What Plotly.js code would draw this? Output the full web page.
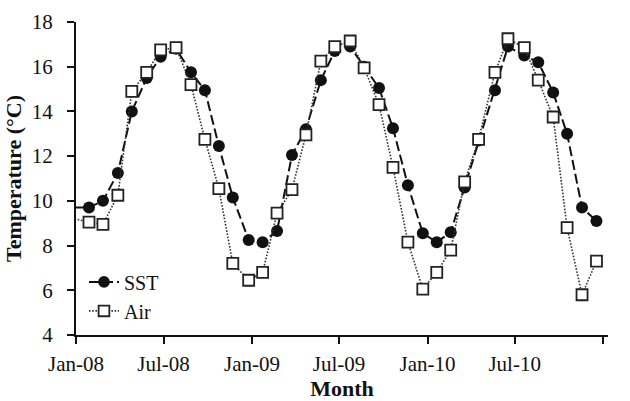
<!DOCTYPE html>
<html>
<head>
<meta charset="utf-8">
<script src="https://cdn.plot.ly/plotly-3.0.1.min.js"></script>
<style>
  html, body { margin: 0; padding: 0; background: #fff; }
  #chart { width: 630px; height: 401px; }
</style>
</head>
<body>
<div id="chart"></div>
<script>
// Monthly sampling dates (first one falls just before the axis start)
const sampleDates = [
  '2007-12-29',
  '2008-01-28','2008-02-26','2008-03-28','2008-04-26','2008-05-27','2008-06-25',
  '2008-07-27','2008-08-27','2008-09-25','2008-10-24','2008-11-22','2008-12-25',
  '2009-01-23','2009-02-22','2009-03-25','2009-04-23','2009-05-24','2009-06-22',
  '2009-07-24','2009-08-22','2009-09-22','2009-10-21','2009-11-21','2009-12-22',
  '2010-01-20','2010-02-18','2010-03-19','2010-04-17','2010-05-21','2010-06-17',
  '2010-07-21','2010-08-19','2010-09-19','2010-10-18','2010-11-18','2010-12-18'
];

// Sea surface temperature (°C)
const sst = [
  9.7,
  9.7, 10.0, 11.25, 14.0, 15.5, 16.45,
  16.8, 15.75, 14.95, 12.45, 10.15, 8.25,
  8.15, 8.65, 12.05, 13.2, 15.4, 16.7,
  16.9, 16.0, 15.05, 13.25, 10.7, 8.55,
  8.15, 8.6, 10.6, 12.7, 14.95, 16.9,
  16.5, 16.2, 14.85, 13.0, 9.7, 9.1
];

// Air temperature (°C)
const air = [
  9.2,
  9.05, 8.95, 10.25, 14.9, 15.75, 16.75,
  16.85, 15.2, 12.75, 10.55, 7.2, 6.45,
  6.8, 9.45, 10.5, 12.95, 16.25, 16.9,
  17.15, 15.95, 14.3, 11.5, 8.15, 6.05,
  6.8, 7.8, 10.85, 12.75, 15.75, 17.25,
  16.85, 15.4, 13.75, 8.8, 5.8, 7.3
];

const tickDates = ['2008-01-01','2008-07-01','2009-01-01','2009-07-01','2010-01-01','2010-07-01','2011-01-01'];
const tickLabels = ['Jan-08','Jul-08','Jan-09','Jul-09','Jan-10','Jul-10','Jan-11'];

const axisStart = '2008-01-01';
const axisEnd = '2011-01-11';

// Points before the axis start only contribute the clipped line segment
const visible = (size) => sampleDates.map(d => (d < axisStart ? 0 : size));

const serif = 'Liberation Serif, Times New Roman, serif';
const ink = '#111';

const traces = [
  {
    x: sampleDates, y: sst, name: 'SST', type: 'scatter', mode: 'lines+markers',
    line: { color: ink, width: 2, dash: '10px,4px' },
    marker: { symbol: 'circle', size: visible(12), opacity: 1, color: ink, line: { width: 0 } }
  },
  {
    x: sampleDates, y: air, name: 'Air', type: 'scatter', mode: 'lines+markers',
    line: { color: '#333', width: 1.6, dash: '1.6px,1.6px' },
    marker: { symbol: 'square', size: visible(11), opacity: 1, color: '#fff', line: { color: '#222', width: 1.8 } }
  }
];

const layout = {
  width: 630, height: 401,
  margin: { l: 76, r: 22, t: 22, b: 66 },
  paper_bgcolor: '#fff', plot_bgcolor: '#fff',
  font: { family: serif, color: ink, size: 21 },
  showlegend: true,
  legend: {
    x: 0.015, y: 0.232, xanchor: 'left', yanchor: 'top',
    bgcolor: 'rgba(0,0,0,0)', font: { family: serif, size: 20, color: ink },
    itemwidth: 30, tracegroupgap: 0
  },
  xaxis: {
    type: 'date', range: [axisStart, axisEnd],
    tickvals: tickDates, ticktext: tickLabels,
    ticks: 'outside', ticklen: 7, tickwidth: 2, tickcolor: ink,
    showline: true, linecolor: ink, linewidth: 2,
    showgrid: false, zeroline: false,
    tickfont: { family: serif, size: 21, color: ink },
    ticklabelstandoff: 2,
    title: { text: 'Month', font: { family: serif, size: 22, weight: 'bold', color: ink } }
  },
  yaxis: {
    range: [4, 18], dtick: 2, tick0: 4,
    ticks: 'outside', ticklen: 7, tickwidth: 2, tickcolor: ink,
    showline: true, linecolor: ink, linewidth: 2,
    showgrid: false, zeroline: false,
    tickfont: { family: serif, size: 21, color: ink },
    ticklabelstandoff: 10,
    title: { text: 'Temperature (°C)', font: { family: serif, size: 22, weight: 'bold', color: ink } }
  }
};

Plotly.newPlot('chart', traces, layout, { displayModeBar: false, staticPlot: true });
</script>
</body>
</html>
